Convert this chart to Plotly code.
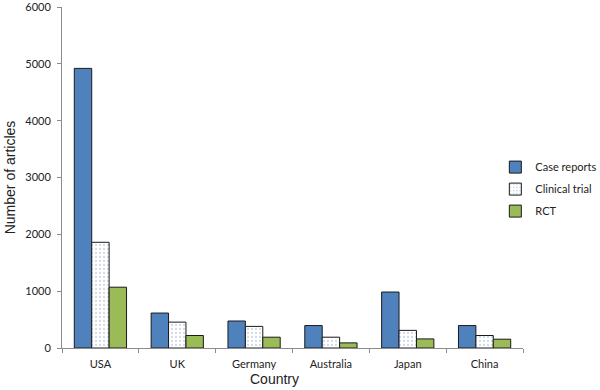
import plotly.graph_objects as go

countries = ["USA", "UK", "Germany", "Australia", "Japan", "China"]
case_reports = [4920, 615, 475, 395, 985, 395]
clinical_trial = [1860, 455, 380, 190, 310, 220]
rct = [1070, 220, 190, 90, 160, 155]
y_ticks = [0, 1000, 2000, 3000, 4000, 5000, 6000]

line = dict(color="#1a1a1a", width=1)
fig = go.Figure()
fig.add_trace(go.Bar(x=countries, y=case_reports, name="Case reports", legendgroup="a",
                     marker=dict(color="#4F81BD", line=line)))
fig.add_trace(go.Bar(x=countries, y=clinical_trial, name="Clinical trial", legendgroup="b",
                     marker=dict(color="white", line=line,
                                 pattern=dict(shape=".", fgcolor="#9fb6d6", bgcolor="white",
                                              size=4, solidity=0.25))))
fig.add_trace(go.Bar(x=countries, y=rct, name="RCT", legendgroup="c",
                     marker=dict(color="#9BBB59", line=line)))

fig.update_layout(
    width=600, height=390,
    margin=dict(l=62, r=77, t=7, b=42, autoexpand=False),
    paper_bgcolor="white", plot_bgcolor="white",
    barmode="group", bargap=0.32, bargroupgap=0,
    font=dict(family="Liberation Sans, Arial, sans-serif", color="#222222"),
    legend=dict(x=0.94, y=0.466, xanchor="left", yanchor="middle",
                font=dict(size=11, family="Lato, Liberation Sans, sans-serif"),
                itemwidth=30, tracegroupgap=3, bgcolor="rgba(0,0,0,0)"),
    showlegend=True,
)
fig.update_xaxes(showline=True, linecolor="#8c8c8c", linewidth=1,
                 ticks="outside", tickson="boundaries", ticklen=4, tickcolor="#8c8c8c",
                 ticklabelstandoff=6,
                 tickfont=dict(size=11, family="Lato, Liberation Sans, sans-serif", color="#222"),
                 showgrid=False)
fig.update_yaxes(range=[0, 6000], tickvals=y_ticks, showline=True, linecolor="#8c8c8c",
                 linewidth=1, ticks="outside", ticklen=4, tickcolor="#8c8c8c",
                 ticklabelstandoff=4, ticklabeloverflow="allow",
                 tickfont=dict(size=11, family="Lato, Liberation Sans, sans-serif", color="#222"),
                 showgrid=False, zeroline=False,
                 title=dict(text="Number of articles", font=dict(size=14), standoff=6))
fig.add_annotation(text="Country", xref="paper", yref="paper", x=0.46, y=-0.062,
                   xanchor="center", yanchor="top", showarrow=False, font=dict(size=14))

fig.write_html("out.html", config={"displayModeBar": False},
               post_script="document.body.style.margin='0';")
